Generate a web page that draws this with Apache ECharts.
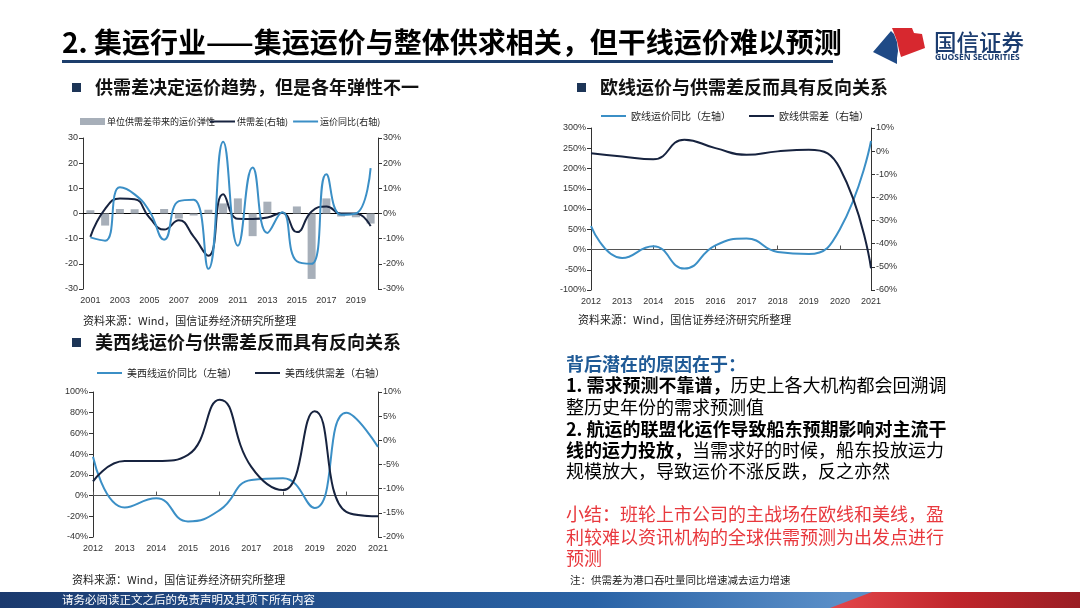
<!DOCTYPE html>
<html><head><meta charset="utf-8">
<script src="https://cdn.jsdelivr.net/npm/echarts@6/dist/echarts.min.js"></script>
<style>html,body{margin:0;padding:0;background:#fff;}#c{width:1080px;height:608px;}</style>
</head><body><div id="c"></div>
<script>
// ---- Chart 1 data ----
const years1 = ['2001','2002','2003','2004','2005','2006','2007','2008','2009','2010','2011','2012','2013','2014','2015','2016','2017','2018','2019','2020'];
const elasticity = [1.3,-4.8,1.8,1.7,0,1.8,-2,-0.8,1.5,4,6,-9,4.7,0.3,2.8,-26,6,-1.2,-1.5,-4];
const gap1 = [-9.3,1.8,6,5.7,-1.6,-6.4,-2.7,-9.2,-16.8,7.6,-2.1,-2.2,-1.6,0.3,-7.4,0.8,2.8,0,0,-5];
const rate1 = [-9.5,-10.8,10.4,7.6,1,-10.4,4.9,5.5,-22,28.5,-12.8,18.3,-7.7,0.5,-19,-20,15.6,-0.5,0,18];
// ---- Chart 2 (Europe) ----
const years2 = ['2012','2013','2014','2015','2016','2017','2018','2019','2020','2021'];
const euRate = [58,-21,8,-47,10,27,-6,-11,50,268];
const euGap = [-0.9,-2.3,-3.5,4.9,1.3,-1.6,-0.1,0.6,-7.4,-50.6];
// ---- Chart 3 (US West) ----
const years3 = ['2012','2013','2014','2015','2016','2017','2018','2019','2020','2021'];
const usRate = [37.5,-11.5,-2.6,-25,-14,15,16.7,-12,80,47];
const usGap = [-8.5,-4.3,-4.3,-3,8.4,-5.5,-10.3,6,-14.8,-15.7];

const FONT = '"Noto Sans CJK SC","Noto Sans",sans-serif';
const LIGHT = '#3b8fc6';
const DARK = '#17233f';
const GRAY = '#a7afb9';

function yAx(grid, min, max, interval, pos, fmt){
  return {type:'value', gridIndex:grid, min, max, interval, position:pos,
    axisLine:{show:true, lineStyle:{color:'#333', width:1}},
    axisTick:{show:true, length:4, lineStyle:{color:'#333'}},
    splitLine:{show:false},
    axisLabel:{fontSize:9, color:'#333', fontFamily:'Liberation Sans, Arial', margin:5, formatter:fmt}};
}
function xLab(grid, data, boundary, interval){
  return {type:'category', gridIndex:grid, data, boundaryGap:boundary, position:'bottom',
    axisLine:{show:false, onZero:false}, axisTick:{show:false},
    axisLabel:{fontSize:9, color:'#333', fontFamily:'Liberation Sans, Arial', interval:interval, margin:7}};
}
function xZero(grid, data, boundary, ticks, color){
  return {type:'category', gridIndex:grid, data, boundaryGap:boundary,
    axisLine:{show:true, onZero:true, lineStyle:{color:color, width:1.2}},
    axisTick:{show:ticks, length:4, inside:false, lineStyle:{color:color}},
    axisLabel:{show:false}};
}
function richLine(x, y, bold, normal, color){
  return {type:'text', x, y, style:{text:'{b|'+bold+'}{n|'+normal+'}', verticalAlign:'middle',
    rich:{b:{font:'bold 18px '+FONT, fill:color}, n:{font:'18px '+FONT, fill:color}}}};
}

const chart = echarts.init(document.getElementById('c'));
const option = {
  animation:false,
  textStyle:{fontFamily:FONT},
  grid:[
    {left:83, top:138, width:295, height:151, outerBoundsMode:'none'},
    {left:591, top:128, width:280, height:162, outerBoundsMode:'none'},
    {left:93, top:392, width:285, height:145, outerBoundsMode:'none'}
  ],
  xAxis:[
    xLab(0, years1, true, 1), xZero(0, years1, true, false, '#000'),
    xLab(1, years2, false, 0), xZero(1, years2, false, true, '#555'),
    xLab(2, years3, false, 0), xZero(2, years3, false, true, '#555')
  ],
  yAxis:[
    yAx(0,-30,30,10,'left','{value}'), yAx(0,-30,30,10,'right','{value}%'),
    yAx(1,-100,300,50,'left','{value}%'), yAx(1,-60,10,10,'right','{value}%'),
    yAx(2,-40,100,20,'left','{value}%'), yAx(2,-20,10,5,'right','{value}%')
  ],
  legend:[
    {left:75, top:112, itemWidth:25, itemHeight:7, itemGap:2, textStyle:{fontSize:9, color:'#222', padding:[0,0,0,-3]},
      data:[{name:'单位供需差带来的运价弹性', icon:'rect'}]},
    {left:205, top:112, itemWidth:25, itemHeight:2, itemGap:5, textStyle:{fontSize:9, color:'#222', padding:[0,0,0,-3]},
      data:[{name:'供需差(右轴)', icon:'rect'},{name:'运价同比(右轴)', icon:'rect'}]},
    {left:596, top:106, itemWidth:25, itemHeight:2, itemGap:18, textStyle:{fontSize:10, color:'#222'},
      data:[{name:'欧线运价同比（左轴）', icon:'rect'},{name:'欧线供需差（右轴）', icon:'rect'}]},
    {left:92, top:363, itemWidth:25, itemHeight:2, itemGap:18, textStyle:{fontSize:10, color:'#222'},
      data:[{name:'美西线运价同比（左轴）', icon:'rect'},{name:'美西线供需差（右轴）', icon:'rect'}]}
  ],
  series:[
    {name:'单位供需差带来的运价弹性', type:'bar', xAxisIndex:0, yAxisIndex:0, data:elasticity, barWidth:8, itemStyle:{color:GRAY}},
    {name:'供需差(右轴)', type:'line', xAxisIndex:0, yAxisIndex:1, data:gap1, smooth:true, symbol:'none', lineStyle:{color:DARK, width:2}, itemStyle:{color:DARK}, z:3},
    {name:'运价同比(右轴)', type:'line', xAxisIndex:0, yAxisIndex:1, data:rate1, smooth:true, symbol:'none', lineStyle:{color:LIGHT, width:2}, itemStyle:{color:LIGHT}, z:4},
    {name:'欧线运价同比（左轴）', type:'line', xAxisIndex:2, yAxisIndex:2, data:euRate, smooth:true, symbol:'none', lineStyle:{color:LIGHT, width:2}, itemStyle:{color:LIGHT}},
    {name:'欧线供需差（右轴）', type:'line', xAxisIndex:2, yAxisIndex:3, data:euGap, smooth:true, symbol:'none', lineStyle:{color:DARK, width:2}, itemStyle:{color:DARK}},
    {name:'美西线运价同比（左轴）', type:'line', xAxisIndex:4, yAxisIndex:4, data:usRate, smooth:true, symbol:'none', lineStyle:{color:LIGHT, width:2}, itemStyle:{color:LIGHT}},
    {name:'美西线供需差（右轴）', type:'line', xAxisIndex:4, yAxisIndex:5, data:usGap, smooth:true, symbol:'none', lineStyle:{color:DARK, width:2}, itemStyle:{color:DARK}}
  ],
  graphic:[
    // title
    {type:'text', x:62, y:42, style:{text:'2. 集运行业——集运运价与整体供求相关，但干线运价难以预测', font:'bold 28px '+FONT, fill:'#000', verticalAlign:'middle'}},
    {type:'rect', shape:{x:62, y:60, width:771, height:3}, style:{fill:'#1d3e6c'}},
    // logo
    {type:'polygon', shape:{points:[[873,52],[891,31],[894,34],[897,42],[898,51],[897,58],[897,64]]}, style:{fill:'#1f4a86'}},
    {type:'polygon', shape:{points:[[892,28],[912,28],[914,33],[922,34],[925,48],[901,57],[899,50],[897,41],[894,33]]}, style:{fill:'#d7282f'}},
    {type:'text', x:934, y:42, style:{text:'国信证券', font:'500 22.5px '+FONT, fill:'#1b3c6f', verticalAlign:'middle'}},
    {type:'text', x:935, y:58, style:{text:'GUOSEN SECURITIES', font:'bold 8.5px "Open Sans",sans-serif', fill:'#1b3c6f', verticalAlign:'middle'}},
    // section headers
    {type:'rect', shape:{x:72, y:83, width:9, height:9}, style:{fill:'#1d3557'}},
    {type:'text', x:95, y:87, style:{text:'供需差决定运价趋势，但是各年弹性不一', font:'bold 18px '+FONT, fill:'#111', verticalAlign:'middle'}},
    {type:'rect', shape:{x:577, y:83, width:9, height:9}, style:{fill:'#1d3557'}},
    {type:'text', x:600, y:87, style:{text:'欧线运价与供需差反而具有反向关系', font:'bold 18px '+FONT, fill:'#111', verticalAlign:'middle'}},
    {type:'rect', shape:{x:72, y:338, width:9, height:9}, style:{fill:'#1d3557'}},
    {type:'text', x:95, y:342, style:{text:'美西线运价与供需差反而具有反向关系', font:'bold 18px '+FONT, fill:'#111', verticalAlign:'middle'}},
    // sources
    {type:'text', x:83, y:321, style:{text:'资料来源：Wind，国信证券经济研究所整理', font:'11px '+FONT, fill:'#222', verticalAlign:'middle'}},
    {type:'text', x:578, y:320, style:{text:'资料来源：Wind，国信证券经济研究所整理', font:'11px '+FONT, fill:'#222', verticalAlign:'middle'}},
    {type:'text', x:72, y:580, style:{text:'资料来源：Wind，国信证券经济研究所整理', font:'11px '+FONT, fill:'#222', verticalAlign:'middle'}},
    {type:'text', x:570, y:580, style:{text:'注：供需差为港口吞吐量同比增速减去运力增速', font:'10.5px '+FONT, fill:'#222', verticalAlign:'middle'}},
    // right text block
    {type:'text', x:566, y:364, style:{text:'背后潜在的原因在于：', font:'bold 18px '+FONT, fill:'#1f5a96', verticalAlign:'middle'}},
    richLine(566, 385, '1. 需求预测不靠谱，', '历史上各大机构都会回溯调', '#000'),
    {type:'text', x:566, y:407, style:{text:'整历史年份的需求预测值', font:'18px '+FONT, fill:'#000', verticalAlign:'middle'}},
    {type:'text', x:566, y:429, style:{text:'2. 航运的联盟化运作导致船东预期影响对主流干', font:'bold 18px '+FONT, fill:'#000', verticalAlign:'middle'}},
    richLine(566, 450, '线的运力投放，', '当需求好的时候，船东投放运力', '#000'),
    {type:'text', x:566, y:471, style:{text:'规模放大，导致运价不涨反跌，反之亦然', font:'18px '+FONT, fill:'#000', verticalAlign:'middle'}},
    {type:'text', x:566, y:514, style:{text:'小结：班轮上市公司的主战场在欧线和美线，盈', font:'18px '+FONT, fill:'#e8383d', verticalAlign:'middle'}},
    {type:'text', x:566, y:537, style:{text:'利较难以资讯机构的全球供需预测为出发点进行', font:'18px '+FONT, fill:'#e8383d', verticalAlign:'middle'}},
    {type:'text', x:566, y:558, style:{text:'预测', font:'18px '+FONT, fill:'#e8383d', verticalAlign:'middle'}},
    // footer
    {type:'rect', shape:{x:0, y:592, width:1080, height:16}, style:{fill:new echarts.graphic.LinearGradient(0,0,1,0,[
      {offset:0, color:'#1b3a6e'},{offset:0.55, color:'#2a63a6'},{offset:0.78, color:'#5b8fc8'},{offset:1, color:'#5b8fc8'}])}},
    {type:'polygon', shape:{points:[[830,608],[872,592],[1080,592],[1080,608]]}, style:{fill:new echarts.graphic.LinearGradient(0,0,1,0,[
      {offset:0, color:'#e4474b'},{offset:0.5, color:'#c0262c'},{offset:1, color:'#9a1e24'}])}},
    {type:'text', x:62, y:600, style:{text:'请务必阅读正文之后的免责声明及其项下所有内容', font:'11.5px '+FONT, fill:'#fff', verticalAlign:'middle'}}
  ]
};
chart.setOption(option);
</script></body></html>
